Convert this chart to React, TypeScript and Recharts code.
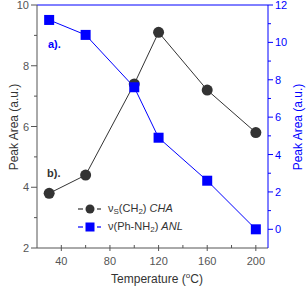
import React from 'react';
import { LineChart, Line, XAxis, YAxis, Legend, Label, ReferenceLine } from 'recharts';

const temps = [30, 60, 100, 120, 160, 200];
const chaValues = [3.8, 4.4, 7.4, 9.1, 7.2, 5.8];
const anlValues = [11.2, 10.4, 7.6, 4.9, 2.6, 0.0];

const xTicks = [40, 60, 80, 100, 120, 140, 160, 180, 200];
const xLabelTicks = [40, 80, 120, 160, 200];
const leftTicks = [2, 3, 4, 5, 6, 7, 8, 9, 10];
const leftLabelTicks = [2, 4, 6, 8, 10];
const rightTicks = [0, 1, 2, 3, 4, 5, 6, 7, 8, 9, 10, 11, 12];
const rightLabelTicks = [0, 2, 4, 6, 8, 10, 12];

const data = temps.map((t, i) => ({ t, cha: chaValues[i], anl: anlValues[i] }));

const FONT = '"Liberation Sans", Arial, sans-serif';
const BLUE = '#0000ff';
const DARK = '#333333';
const GRAY = '#555555';

const LeftTick = (props: any) => {
  const { x, y, payload } = props;
  const major = leftLabelTicks.includes(payload.value);
  return (
    <g>
      <line x1={x - (major ? 6 : 3)} x2={x} y1={y} y2={y} stroke={GRAY} strokeWidth={1} />
      {major && (
        <text x={x - 8} y={y + 4} textAnchor="end" fontSize={11} fill={GRAY} fontFamily={FONT}>
          {payload.value}
        </text>
      )}
    </g>
  );
};

const RightTick = (props: any) => {
  const { x, y, payload } = props;
  const major = rightLabelTicks.includes(payload.value);
  return (
    <g>
      <line x1={x} x2={x + (major ? 5 : 3)} y1={y} y2={y} stroke={BLUE} strokeWidth={1} />
      {major && (
        <text x={x + 7} y={y + 4} textAnchor="start" fontSize={11} fill={BLUE} fontFamily={FONT}>
          {payload.value}
        </text>
      )}
    </g>
  );
};

const BottomTick = (props: any) => {
  const { x, y, payload } = props;
  const major = xLabelTicks.includes(payload.value);
  return (
    <g>
      <line x1={x} x2={x} y1={y - 3} y2={major ? y + 3 : y} stroke={GRAY} strokeWidth={1} />
      {major && (
        <text x={x} y={y + 17} textAnchor="middle" fontSize={11} fill={GRAY} fontFamily={FONT}>
          {payload.value}
        </text>
      )}
    </g>
  );
};

const SquareDot = (props: any) => {
  const { cx, cy, index } = props;
  if (cx == null || cy == null) return null;
  return <rect key={`sq-${index}`} x={cx - 5} y={cy - 5} width={10} height={10} fill={BLUE} stroke="none" />;
};

const CircleDot = (props: any) => {
  const { cx, cy, index } = props;
  if (cx == null || cy == null) return null;
  return <circle key={`ci-${index}`} cx={cx} cy={cy} r={5.5} fill={DARK} stroke="none" />;
};

const LegendContent = () => {
  const row: React.CSSProperties = { display: 'flex', alignItems: 'center', height: 18 };
  const txt: React.CSSProperties = { fontSize: 11, color: DARK, lineHeight: '18px', marginLeft: 3, whiteSpace: 'nowrap' };
  const sub: React.CSSProperties = { fontSize: 8, verticalAlign: 'baseline', position: 'relative', top: 2 };
  return (
    <div style={{ fontFamily: FONT }}>
      <div style={row}>
        <svg width={30} height={14}>
          <line x1={3} x2={8} y1={7} y2={7} stroke={DARK} strokeWidth={1.2} />
          <circle cx={15} cy={7} r={4.5} fill={DARK} />
          <line x1={22} x2={26} y1={7} y2={7} stroke={DARK} strokeWidth={1.2} />
        </svg>
        <span style={txt}>
          ν<span style={sub}>S</span>(CH<span style={sub}>2</span>) <i>CHA</i>
        </span>
      </div>
      <div style={row}>
        <svg width={30} height={14}>
          <line x1={3} x2={8} y1={7} y2={7} stroke={BLUE} strokeWidth={1.2} />
          <rect x={10.5} y={2.5} width={9} height={9} fill={BLUE} />
          <line x1={22} x2={26} y1={7} y2={7} stroke={BLUE} strokeWidth={1.2} />
        </svg>
        <span style={txt}>
          ν(Ph-NH<span style={sub}>2</span>) <i>ANL</i>
        </span>
      </div>
    </div>
  );
};

export default function App() {
  return (
    <div style={{ position: 'absolute', left: 0, top: 0, width: 307, height: 288, background: '#fff' }}>
      <LineChart width={307} height={288} data={data} margin={{ top: 5, right: 0, bottom: 0, left: 0 }}>
        <XAxis
          dataKey="t"
          type="number"
          domain={[20, 210]}
          ticks={xTicks}
          interval={0}
          tickSize={0}
          tickMargin={0}
          tickLine={false}
          tick={<BottomTick />}
          axisLine={{ stroke: GRAY, strokeWidth: 1 }}
          height={40}
        >
          <Label
            content={() => (
              <text x={157} y={283} textAnchor="middle" fontSize={12} fill={DARK} fontFamily={FONT}>
                Temperature (
                <tspan fontSize={8} dy={-5}>o</tspan>
                <tspan dy={5}>C)</tspan>
              </text>
            )}
          />
          <Label
            content={() => (
              <text x={48} y={48} fontSize={11} fontWeight="bold" fill={BLUE} fontFamily={FONT}>
                a).
              </text>
            )}
          />
          <Label
            content={() => (
              <text x={47} y={177} fontSize={11} fontWeight="bold" fill={DARK} fontFamily={FONT}>
                b).
              </text>
            )}
          />
        </XAxis>
        <YAxis
          yAxisId="left"
          orientation="left"
          type="number"
          domain={[2, 10]}
          ticks={leftTicks}
          interval={0}
          width={37}
          tickSize={0}
          tickMargin={0}
          tickLine={false}
          tick={<LeftTick />}
          axisLine={{ stroke: GRAY, strokeWidth: 1 }}
        >
          <Label
            content={() => (
              <text
                x={17.5}
                y={127}
                transform="rotate(-90 17.5 127)"
                textAnchor="middle"
                fontSize={12}
                fill={DARK}
                fontFamily={FONT}
              >
                Peak Area (a.u.)
              </text>
            )}
          />
        </YAxis>
        <YAxis
          yAxisId="right"
          orientation="right"
          type="number"
          domain={[-1, 12]}
          ticks={rightTicks}
          interval={0}
          width={39}
          tickSize={0}
          tickMargin={0}
          tickLine={false}
          tick={<RightTick />}
          axisLine={{ stroke: BLUE, strokeWidth: 1 }}
        >
          <Label
            content={() => (
              <text
                x={302}
                y={127}
                transform="rotate(-90 302 127)"
                textAnchor="middle"
                fontSize={12}
                fill={BLUE}
                fontFamily={FONT}
              >
                Peak Area (a.u.)
              </text>
            )}
          />
        </YAxis>
        <ReferenceLine yAxisId="left" y={10} stroke={BLUE} strokeWidth={1} />
        <Line
          yAxisId="left"
          dataKey="cha"
          name="CHA"
          stroke={DARK}
          strokeWidth={1}
          dot={<CircleDot />}
          activeDot={false}
          isAnimationActive={false}
        />
        <Line
          yAxisId="right"
          dataKey="anl"
          name="ANL"
          stroke={BLUE}
          strokeWidth={1}
          dot={<SquareDot />}
          activeDot={false}
          isAnimationActive={false}
        />
        <Legend
          layout="vertical"
          align="center"
          verticalAlign="middle"
          content={<LegendContent />}
          wrapperStyle={{ left: 75, top: 200, width: 170, height: 36 }}
        />
      </LineChart>
    </div>
  );
}
